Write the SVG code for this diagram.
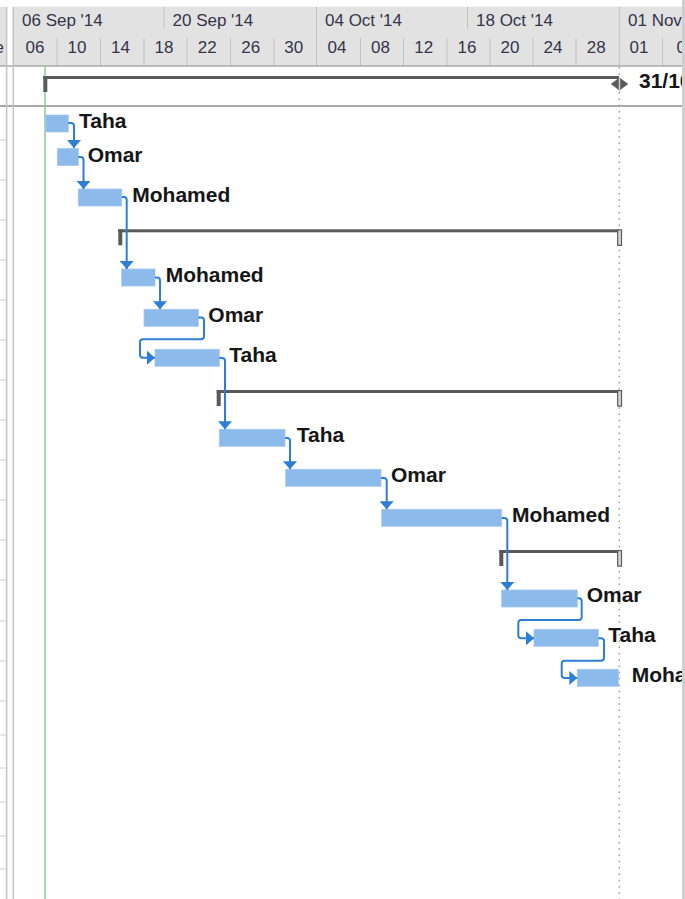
<svg xmlns="http://www.w3.org/2000/svg" width="685" height="899" viewBox="0 0 685 899">
<style>
.hdr{font-family:"Liberation Sans",Arial,sans-serif;font-size:17px;fill:#34344a}
.lbl{font-family:"Liberation Sans",Arial,sans-serif;font-size:21px;font-weight:bold;fill:#161616}
.bar{fill:#8cbaea;stroke:#a3c7ef;stroke-width:0.8}
.sum{fill:#5a5a5a}
.sumend{fill:#d6d6d6;stroke:#5a5a5a;stroke-width:1.2}
.link{fill:none;stroke:#2d7fd6;stroke-width:2}
.tick{stroke:#c2c2c2;stroke-width:1}
.row{stroke:#d0d0d0;stroke-width:1}
.split{stroke:#c3c3c3;stroke-width:1.5}
</style>
<defs>
<marker id="arr" viewBox="0 0 8 14" refX="8" refY="7" markerWidth="8" markerHeight="14" markerUnits="userSpaceOnUse" orient="auto"><path d="M0,0 L8,7 L0,14 Z" fill="#2d7fd6"/></marker>
<clipPath id="clip"><rect x="14" y="0" width="668" height="899"/></clipPath>
<clipPath id="leftclip"><rect x="0" y="0" width="6" height="899"/></clipPath>
</defs>
<rect x="0" y="0" width="685" height="899" fill="#ffffff"/>

<g id="header">
<rect x="0" y="6.7" width="6" height="59.3" fill="#e2e2e2"/>
<rect x="14" y="6.7" width="668" height="59.3" fill="#e2e2e2"/>
<text class="hdr" x="-5.5" y="53" clip-path="url(#leftclip)">e</text>
<g class="tick">
<line x1="57" y1="38" x2="57" y2="66"/>
<line x1="100.5" y1="38" x2="100.5" y2="66"/>
<line x1="144" y1="38" x2="144" y2="66"/>
<line x1="187" y1="38" x2="187" y2="66"/>
<line x1="230.5" y1="38" x2="230.5" y2="66"/>
<line x1="274" y1="38" x2="274" y2="66"/>
<line x1="316.5" y1="6.7" x2="316.5" y2="66"/>
<line x1="360.5" y1="38" x2="360.5" y2="66"/>
<line x1="403.5" y1="38" x2="403.5" y2="66"/>
<line x1="447" y1="38" x2="447" y2="66"/>
<line x1="490" y1="38" x2="490" y2="66"/>
<line x1="533" y1="38" x2="533" y2="66"/>
<line x1="576" y1="38" x2="576" y2="66"/>
<line x1="619.3" y1="6.7" x2="619.3" y2="66"/>
<line x1="662.5" y1="38" x2="662.5" y2="66"/>
<line x1="164" y1="6.7" x2="164" y2="29"/>
<line x1="467.5" y1="6.7" x2="467.5" y2="29"/>
</g>
<g clip-path="url(#clip)">
<text class="hdr" x="22" y="26">06 Sep '14</text>
<text class="hdr" x="172.5" y="26">20 Sep '14</text>
<text class="hdr" x="325" y="26">04 Oct '14</text>
<text class="hdr" x="476" y="26">18 Oct '14</text>
<text class="hdr" x="628" y="26">01 Nov</text>
<g text-anchor="middle">
<text class="hdr" x="35" y="53">06</text>
<text class="hdr" x="77" y="53">10</text>
<text class="hdr" x="120.5" y="53">14</text>
<text class="hdr" x="164" y="53">18</text>
<text class="hdr" x="207.3" y="53">22</text>
<text class="hdr" x="250.8" y="53">26</text>
<text class="hdr" x="293.8" y="53">30</text>
<text class="hdr" x="337" y="53">04</text>
<text class="hdr" x="380.5" y="53">08</text>
<text class="hdr" x="423.8" y="53">12</text>
<text class="hdr" x="467" y="53">16</text>
<text class="hdr" x="510" y="53">20</text>
<text class="hdr" x="553" y="53">24</text>
<text class="hdr" x="596.2" y="53">28</text>
<text class="hdr" x="639" y="53">01</text>
<text class="hdr" x="686" y="53">05</text>
</g>
</g>
<line x1="0" y1="66" x2="682" y2="66" stroke="#a9a9a9" stroke-width="1.5"/>
</g>

<g id="grid">
<line x1="0" y1="106" x2="682" y2="106" stroke="#a9a9a9" stroke-width="2"/>
<g class="row">
<line x1="0" y1="140" x2="6" y2="140"/><line x1="0" y1="180" x2="6" y2="180"/>
<line x1="0" y1="220" x2="6" y2="220"/><line x1="0" y1="260" x2="6" y2="260"/>
<line x1="0" y1="300" x2="6" y2="300"/><line x1="0" y1="340" x2="6" y2="340"/>
<line x1="0" y1="380" x2="6" y2="380"/><line x1="0" y1="420" x2="6" y2="420"/>
<line x1="0" y1="460" x2="6" y2="460"/><line x1="0" y1="500" x2="6" y2="500"/>
<line x1="0" y1="540" x2="6" y2="540"/><line x1="0" y1="580" x2="6" y2="580"/>
<line x1="0" y1="621" x2="6" y2="621"/><line x1="0" y1="661" x2="6" y2="661"/>
<line x1="0" y1="701" x2="6" y2="701"/><line x1="0" y1="735" x2="6" y2="735"/>
<line x1="0" y1="768" x2="6" y2="768"/><line x1="0" y1="802" x2="6" y2="802"/>
<line x1="0" y1="836" x2="6" y2="836"/><line x1="0" y1="869" x2="6" y2="869"/>
</g>
<line class="split" x1="6.6" y1="6.7" x2="6.6" y2="899"/>
<line class="split" x1="13.3" y1="6.7" x2="13.3" y2="899"/>
<rect x="682" y="0" width="3" height="899" fill="#cfcfcf"/>
<line x1="45" y1="66.7" x2="45" y2="899" stroke="#8fca8f" stroke-width="1.5"/>
<line x1="619.3" y1="67" x2="619.3" y2="899" stroke="#9a9a9a" stroke-width="1.5" stroke-dasharray="1.5 4.8"/>
</g>

<g id="summary1">
<rect class="sum" x="43.3" y="76" width="575.7" height="3"/>
<rect class="sum" x="43.3" y="76" width="4" height="16"/>
<polygon points="610.8,84 619.5,77.5 628.2,84 619.5,90.5" fill="#5a5a5a"/>
<line x1="619.5" y1="77" x2="619.5" y2="92" stroke="#cfcfcf" stroke-width="1.5"/>
<text class="lbl" x="639" y="87.5" clip-path="url(#clip)">31/10</text>
</g>
<g id="summary2">
<rect class="sum" x="118.3" y="229.3" width="501" height="3"/>
<rect class="sum" x="118.3" y="229.3" width="4" height="16"/>
<rect class="sumend" x="617.7" y="229.9" width="3.8" height="15.5"/>
</g>
<g id="summary3">
<rect class="sum" x="216.7" y="390" width="402.6" height="3"/>
<rect class="sum" x="216.7" y="390" width="4" height="16"/>
<rect class="sumend" x="617.7" y="390.6" width="3.8" height="15.5"/>
</g>
<g id="summary4">
<rect class="sum" x="499.3" y="550" width="120" height="3"/>
<rect class="sum" x="499.3" y="550" width="4" height="16"/>
<rect class="sumend" x="617.7" y="550.6" width="3.8" height="15.5"/>
</g>

<g id="task1"><rect class="bar" x="45.7" y="115" width="22.6" height="17"/><text class="lbl" x="79" y="127.7">Taha</text></g>
<g id="task2"><rect class="bar" x="57.3" y="148.5" width="21" height="17"/><text class="lbl" x="87.7" y="161.7">Omar</text></g>
<g id="task3"><rect class="bar" x="78.3" y="189" width="43.4" height="17"/><text class="lbl" x="132.3" y="201.5">Mohamed</text></g>
<g id="task4"><rect class="bar" x="121.7" y="269" width="33.3" height="17"/><text class="lbl" x="165.7" y="281.6">Mohamed</text></g>
<g id="task5"><rect class="bar" x="144" y="309.3" width="54.3" height="17"/><text class="lbl" x="208.3" y="321.7">Omar</text></g>
<g id="task6"><rect class="bar" x="155" y="349.3" width="64.3" height="17"/><text class="lbl" x="229.3" y="361.7">Taha</text></g>
<g id="task7"><rect class="bar" x="219.3" y="429.3" width="65.7" height="17"/><text class="lbl" x="296.7" y="441.7">Taha</text></g>
<g id="task8"><rect class="bar" x="285.7" y="469.3" width="95.3" height="17"/><text class="lbl" x="391" y="481.7">Omar</text></g>
<g id="task9"><rect class="bar" x="381.7" y="509.3" width="120" height="17"/><text class="lbl" x="512" y="521.7">Mohamed</text></g>
<g id="task10"><rect class="bar" x="501.7" y="590" width="75.6" height="17"/><text class="lbl" x="586.7" y="602.4">Omar</text></g>
<g id="task11"><rect class="bar" x="534" y="629.3" width="64.3" height="17"/><text class="lbl" x="608.3" y="642.4">Taha</text></g>
<g id="task12"><rect class="bar" x="577.3" y="669.3" width="41" height="17"/><text class="lbl" x="631.7" y="682.4" clip-path="url(#clip)">Moha</text></g>

<g id="connectors" class="link" marker-end="url(#arr)">
<path class="link" marker-end="url(#arr)" d="M68.3,123 H71 Q74,123 74,126 V148"/>
<path class="link" marker-end="url(#arr)" d="M78.3,157 H80.5 Q83.5,157 83.5,160 V189"/>
<path class="link" marker-end="url(#arr)" d="M121.7,197 H123.7 Q126.7,197 126.7,200 V269"/>
<path class="link" marker-end="url(#arr)" d="M155,277.5 H157 Q160,277.5 160,280.5 V309.3"/>
<path class="link" marker-end="url(#arr)" d="M198.3,317.5 H201 Q204,317.5 204,320.5 V336.3 Q204,339.3 201,339.3 H143 Q140,339.3 140,342.3 V354.7 Q140,357.7 143,357.7 H155"/>
<path class="link" marker-end="url(#arr)" d="M219.3,358 H222 Q225,358 225,361 V429.3"/>
<path class="link" marker-end="url(#arr)" d="M285,438 H287 Q290,438 290,441 V469.3"/>
<path class="link" marker-end="url(#arr)" d="M381,478 H383.7 Q386.7,478 386.7,481 V509.3"/>
<path class="link" marker-end="url(#arr)" d="M501.7,518 H504.3 Q507.3,518 507.3,521 V590"/>
<path class="link" marker-end="url(#arr)" d="M577.3,598.3 H578.7 Q581.7,598.3 581.7,601.3 V617 Q581.7,620 578.7,620 H521.3 Q518.3,620 518.3,623 V635.3 Q518.3,638.3 521.3,638.3 H534"/>
<path class="link" marker-end="url(#arr)" d="M598.3,638.3 H601 Q604,638.3 604,641.3 V657.7 Q604,660.7 601,660.7 H564.7 Q561.7,660.7 561.7,663.7 V675 Q561.7,678 564.7,678 H577.3"/>
</g>
</svg>
